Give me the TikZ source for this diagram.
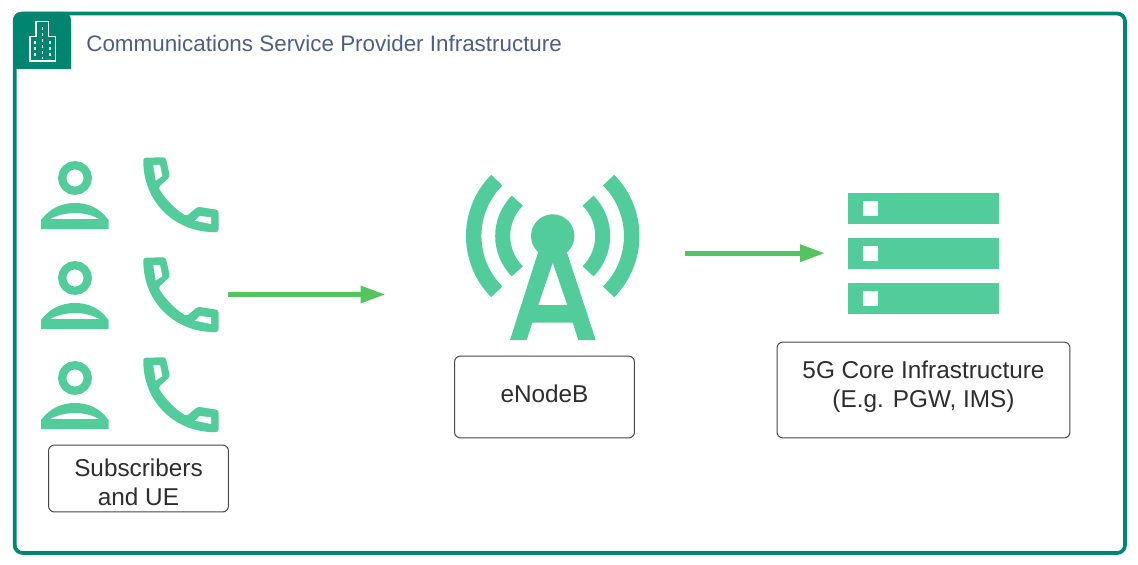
\documentclass[tikz,border=0pt]{standalone}
\usepackage{fontspec}
\setmainfont{Liberation Sans}
\usetikzlibrary{arrows.meta}
\tikzset{
  labelbox/.style={draw=clborder,line width=0.02cm,rounded corners=0.12cm,fill=white,inner sep=0pt},
  labeltext/.style={text=cltext,align=center,font=\fontsize{13.85pt}{16.6pt}\selectfont,inner sep=0pt},
  flow/.style={draw=cflow,line width=0.1cm,-{Triangle[length=0.5cm,width=0.33cm]}},
  icon/.style={fill=cicon,draw=none,even odd rule},
  tick/.style={white,line width=0.03cm,dash pattern=on 0.06cm off 0.06cm},
}
\begin{document}
\begin{tikzpicture}[x=0.02cm,y=-0.02cm]
%
\useasboundingbox (0,0) rectangle (1138,564);
%
\definecolor{cframe}{RGB}{0,133,113}
\definecolor{cicon}{RGB}{82,204,155}
\definecolor{cflow}{RGB}{84,196,94}
\definecolor{ctitle}{RGB}{76,95,127}
\definecolor{clborder}{RGB}{70,70,70}
\definecolor{cltext}{RGB}{45,45,45}
%
\draw[draw=cframe,line width=0.075cm,rounded corners=0.16cm] (14.7,13.5) rectangle (1125,553);
\fill[cframe,rounded corners=0.16cm] (13,69) -- (13,12) -- (71,12) [sharp corners] -- (71,69) -- cycle;
%
\draw[white,line width=0.03cm] (30,61) -- (30,36.7) -- (36,36.7) -- (36,21.7) -- (48.7,21.7) -- (48.7,36.7) -- (55.7,36.7) -- (55.7,61) -- cycle;
\draw[tick] (35,41) -- (35,59);
\draw[tick] (42.3,27) -- (42.3,59);
\draw[tick] (50,41) -- (50,59);
%
\node[anchor=west,text=ctitle,inner sep=0pt,font=\fontsize{12.75pt}{14pt}\selectfont] (title) at (86,43.5) {Communications Service Provider Infrastructure};
%
\foreach \rowy in {0,100,200}{
\begin{scope}[shift={(0,\rowy)}]
\draw[cicon,line width=0.165cm] (75,178) circle (12.8);
\fill[icon] (41,229) -- (41,220) .. controls (50,208) and (62,203) .. (75,203) .. controls (88,203) and (100,208) .. (108.5,220) -- (108.5,229) -- cycle
  (50,219) .. controls (58,215) and (66,213) .. (75,213) .. controls (84,213) and (92,215) .. (99,219) -- cycle;
\fill[icon,rounded corners=0.05cm] (155,157.5) -- (165.7,157.3) -- (170,176.7) -- (158.3,187.5) .. controls (166,200) and (176,210) .. (186.7,216) -- (197.7,206.7) -- (218.5,210) -- (218.5,232) .. controls (176,233) and (143,203) .. (143.3,157.7) -- cycle;
\fill[white] (153.3,165) -- (160,165) -- (162.3,176) -- (155.7,180.7) -- cycle;
\fill[white] (200,216) -- (211,217.3) -- (211,224) -- (195,220.7) -- cycle;
\end{scope}
}
%
\coordinate (mast) at (552.7,236);
\fill[icon] (mast) circle (21.7);
\fill[icon] (510,340) -- (538.3,251.7) -- (566.7,251.7) -- (595.7,340) -- (578.3,340) -- (572.7,322.7) -- (532.3,322.7) -- (526.7,340) -- cycle
  (552.7,262.7) -- (567.3,305) -- (538.3,305) -- cycle;
\foreach \wavr/\wavw in {79/0.31cm,50/0.3cm}{
\draw[cicon,line width=\wavw] (mast) ++(135:\wavr) arc[start angle=135,end angle=225,radius=\wavr];
\draw[cicon,line width=\wavw] (mast) ++(45:\wavr) arc[start angle=45,end angle=-45,radius=\wavr];
}
%
\foreach \srvy in {193.3,238.3,283.3}{
\fill[cicon] (848.3,\srvy) rectangle (999,\srvy+30.3);
\fill[white] (863.3,\srvy+7.7) rectangle (878.3,\srvy+22.7);
}
%
\node[labelbox,minimum width=3.6cm,minimum height=1.34cm] (subs) at (138.5,478.5) {};
\node[labeltext] (substext) at (138.5,482.5) {Subscribers\\and UE};
\node[labelbox,minimum width=3.6cm,minimum height=1.64cm] (enb) at (544.5,397) {};
\node[labeltext] (enbtext) at (544.5,394) {eNodeB};
\node[labelbox,minimum width=5.86cm,minimum height=1.92cm] (core) at (923.5,390) {};
\node[labeltext] (coretext) at (923.5,387) {5G Core Infrastructure\\(E.g. PGW, IMS)};
%
\coordinate (ueout) at (228,294.5);
\coordinate (enbin) at (385.5,294.5);
\coordinate (enbout) at (685,253.2);
\coordinate (corein) at (825,253.2);
\draw[flow] (ueout) -- (enbin);
\draw[flow] (enbout) -- (corein);
%
\end{tikzpicture}
\end{document}
